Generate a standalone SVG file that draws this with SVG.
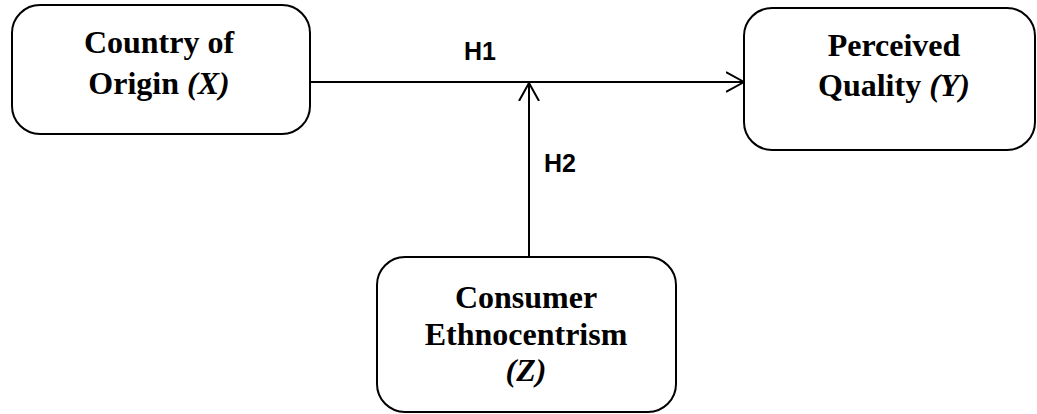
<svg xmlns="http://www.w3.org/2000/svg" width="1037" height="414" viewBox="0 0 1037 414">
<style>
.box{fill:#fff;stroke:#000;stroke-width:2}
.t{font-family:"Liberation Serif","Times New Roman",serif;font-weight:bold;font-size:32px;text-anchor:middle;fill:#000}
.h{font-family:"Liberation Sans",Arial,sans-serif;font-weight:bold;font-size:25px;fill:#000}
.c{fill:none;stroke:#000;stroke-width:2}
</style>
<defs>
<marker id="arr" markerWidth="20" markerHeight="22" refX="18" refY="11" orient="auto" markerUnits="userSpaceOnUse">
<path d="M0,1 L18,11 L0,21" fill="none" stroke="#000" stroke-width="2"/>
</marker>
</defs>
<g id="connectors">
<line class="c" x1="310" y1="82" x2="744" y2="82" marker-end="url(#arr)"/>
<line class="c" x1="529" y1="257" x2="529" y2="83" marker-end="url(#arr)"/>
<text class="h" x="464" y="60">H1</text>
<text class="h" x="544" y="172">H2</text>
</g>
<g id="node-x">
<rect class="box" x="12" y="5" width="298" height="129" rx="28"/>
<text class="t" x="159" y="53">Country of</text>
<text class="t" x="159" y="94">Origin <tspan font-style="italic">(X)</tspan></text>
</g>
<g id="node-y">
<rect class="box" x="744" y="8" width="291" height="142" rx="28"/>
<text class="t" x="894" y="56">Perceived</text>
<text class="t" x="894" y="96">Quality <tspan font-style="italic">(Y)</tspan></text>
</g>
<g id="node-z">
<rect class="box" x="377" y="257" width="299" height="155" rx="28"/>
<text class="t" x="526" y="308">Consumer</text>
<text class="t" x="526" y="345">Ethnocentrism</text>
<text class="t" x="526" y="381"><tspan font-style="italic">(Z)</tspan></text>
</g>
</svg>
